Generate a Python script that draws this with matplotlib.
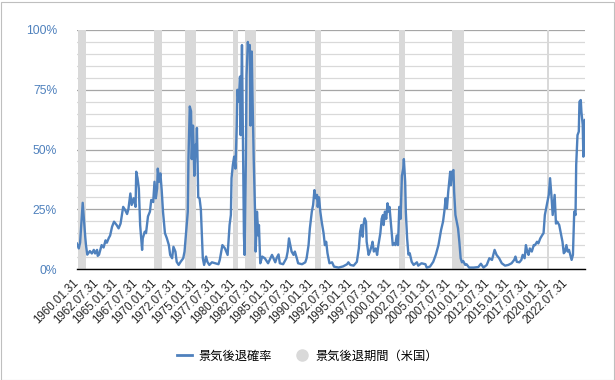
import calendar
import numpy as np
import matplotlib
matplotlib.use('Agg')
import matplotlib.pyplot as plt
from matplotlib.lines import Line2D
from matplotlib.patches import Rectangle

# category axis: one category per month
first_year = 1960
n_months = 779          # 1960.01 .. 2024.11
label_step = 30

# US recessions (NBER), start / end month
rec_start = ["1960-04", "1969-12", "1973-11", "1980-01", "1981-07",
             "1990-07", "2001-03", "2007-12", "2020-02"]
rec_end = ["1961-02", "1970-11", "1975-03", "1980-07", "1982-11",
           "1991-03", "2001-11", "2009-06", "2020-04"]

# recession probability (%)
prob_months = [
    "1960-01", "1960-04", "1960-06", "1960-10", "1961-02", "1961-03", "1961-05", "1961-09", "1961-12",
    "1962-03", "1962-05", "1962-08", "1962-09", "1962-11", "1963-03", "1963-06", "1963-09", "1963-11",
    "1964-02", "1964-04", "1964-07", "1964-10", "1965-02", "1965-05", "1965-08", "1965-12", "1966-03",
    "1966-06", "1966-08", "1966-11", "1967-01", "1967-04", "1967-07", "1967-08", "1967-10", "1967-12",
    "1968-02", "1968-05", "1968-06", "1968-09", "1968-11", "1969-02", "1969-05", "1969-07", "1969-10",
    "1969-12", "1970-02", "1970-04", "1970-05", "1970-07", "1970-09", "1970-11", "1971-01", "1971-04",
    "1971-07", "1971-10", "1971-12", "1972-03", "1972-05", "1972-08", "1972-10", "1973-01", "1973-04",
    "1973-08", "1973-10", "1973-12", "1974-03", "1974-04", "1974-06", "1974-08", "1974-09", "1974-11",
    "1975-01", "1975-03", "1975-04", "1975-05", "1975-07", "1975-09", "1975-11", "1975-12", "1976-02",
    "1976-04", "1976-07", "1976-09", "1976-12", "1977-04", "1977-09", "1978-02", "1978-04", "1978-08",
    "1978-12", "1979-04", "1979-07", "1979-09", "1979-10", "1979-12", "1980-02", "1980-04", "1980-06",
    "1980-07", "1980-09", "1980-11", "1980-12", "1981-02", "1981-03", "1981-05", "1981-06", "1981-08",
    "1981-09", "1981-11", "1981-12", "1982-02", "1982-03", "1982-05", "1982-06", "1982-08", "1982-10",
    "1982-11", "1983-01", "1983-03", "1983-04", "1983-06", "1983-09", "1984-01", "1984-06", "1984-12",
    "1985-05", "1985-07", "1985-10", "1985-12", "1986-05", "1986-10", "1986-12", "1987-02", "1987-04",
    "1987-06", "1987-09", "1987-11", "1988-02", "1988-04", "1988-10", "1989-03", "1989-05", "1989-08",
    "1989-10", "1990-01", "1990-03", "1990-05", "1990-07", "1990-09", "1990-10", "1990-12", "1991-02",
    "1991-04", "1991-07", "1991-09", "1991-11", "1992-01", "1992-04", "1992-08", "1992-11", "1993-06",
    "1994-01", "1994-07", "1994-09", "1994-12", "1995-05", "1995-10", "1996-01", "1996-03", "1996-05",
    "1996-07", "1996-08", "1996-10", "1996-12", "1997-01", "1997-04", "1997-06", "1997-09", "1997-10",
    "1997-12", "1998-03", "1998-05", "1998-07", "1998-10", "1998-12", "1999-02", "1999-03", "1999-05",
    "1999-07", "1999-09", "1999-10", "1999-12", "2000-02", "2000-04", "2000-05", "2000-07", "2000-09",
    "2000-11", "2001-01", "2001-03", "2001-05", "2001-07", "2001-09", "2001-10", "2001-12", "2002-01",
    "2002-03", "2002-05", "2002-07", "2002-10", "2003-01", "2003-06", "2003-08", "2004-01", "2004-07",
    "2004-09", "2005-02", "2005-07", "2005-11", "2006-03", "2006-07", "2006-10", "2006-12", "2007-02",
    "2007-04", "2007-06", "2007-09", "2007-10", "2007-12", "2008-02", "2008-03", "2008-05", "2008-07",
    "2008-09", "2008-11", "2009-01", "2009-03", "2009-05", "2009-08", "2009-10", "2010-02", "2010-09",
    "2011-04", "2011-08", "2011-12", "2012-05", "2012-09", "2013-01", "2013-03", "2013-05", "2013-08",
    "2013-12", "2014-04", "2014-09", "2015-02", "2015-07", "2015-11", "2016-01", "2016-03", "2016-07",
    "2016-10", "2016-12", "2017-03", "2017-05", "2017-07", "2017-09", "2017-11", "2018-02", "2018-05",
    "2018-07", "2018-10", "2018-12", "2019-03", "2019-06", "2019-08", "2019-10", "2020-01", "2020-04",
    "2020-06", "2020-08", "2020-10", "2021-01", "2021-03", "2021-05", "2021-08", "2021-10", "2022-01",
    "2022-03", "2022-05", "2022-07", "2022-09", "2022-11", "2023-01", "2023-03", "2023-05", "2023-07",
    "2023-09", "2023-10", "2023-12", "2024-02", "2024-03", "2024-05", "2024-06", "2024-08", "2024-09",
    "2024-10", "2024-11",
]
prob_values = [
    10.7, 8.6, 11, 27.7, 13, 10, 6, 7.5, 6.5,
    8, 6.5, 8, 5.5, 6, 10, 9, 12, 11,
    13, 14, 17.7, 19.8, 18.4, 17, 19, 26, 24.7,
    23, 25, 31.6, 26.8, 29.6, 26, 40.7, 38, 33.7,
    18.4, 8, 12.8, 15.6, 15, 22, 24, 28.9, 28,
    36.5, 29.6, 33.7, 42, 36.5, 40, 33, 24, 15,
    12.8, 10, 5.9, 4.5, 9.3, 7.3, 3, 1.7, 3,
    4.5, 7.3, 14.2, 24, 46, 68, 66, 46, 60,
    39, 52, 49, 59, 30, 29.6, 25, 18.4, 4.5,
    1.7, 5.2, 3, 1.7, 2.8, 2.4, 2, 3.8, 10,
    8.6, 5.9, 18.4, 22.6, 38, 43.5, 47, 42, 60,
    75, 70, 80.5, 56, 93.7, 67, 14, 5.9, 46,
    81, 95, 91.6, 93.7, 60, 91, 74, 46, 24,
    7.3, 24, 14, 18.4, 2.4, 5.2, 4.5, 2.4, 5.9,
    2.8, 4.5, 6.1, 2.4, 2, 4.5, 7.3, 12.8, 10,
    7.3, 5.9, 7.3, 4.5, 2.4, 2, 2.8, 4.5, 10,
    17, 24, 26.8, 33, 29.6, 31, 26, 30, 24,
    20, 15, 10, 11.4, 6.6, 2.4, 2.8, 1, 0.6,
    1.1, 2, 2.8, 1.7, 1.4, 3, 8.6, 15.6, 18.4,
    13.5, 18.4, 21.2, 19.8, 11.4, 5.9, 7.3, 10, 11.4,
    7.3, 8.6, 5.9, 10, 15, 21, 22.6, 18.4, 24,
    21, 27.5, 24, 26, 19.8, 14, 10, 10.7, 10,
    14, 10, 26, 21, 39, 42, 46, 36.5, 24,
    12.8, 6, 6.6, 3, 1.7, 2.8, 1.4, 2.4, 2,
    0.6, 1, 3, 6, 10, 16.3, 19.8, 24, 29.6,
    25.4, 32.4, 40.7, 35, 40.7, 41.4, 32.4, 22.6, 19.8,
    17, 11.4, 4.5, 2.8, 3.3, 1.7, 2, 0.6, 0.6,
    0.8, 2.2, 0.6, 1.7, 4.5, 3.8, 5.9, 8, 5.9,
    4.5, 2.4, 1.4, 1.7, 2.4, 3.8, 5.2, 3, 2.8,
    3.8, 5.9, 4.5, 10, 7.3, 5.9, 8.6, 7.3, 10,
    10, 11.4, 10.7, 12.8, 14.2, 15, 22.6, 26.8, 31,
    38, 31, 22.6, 31, 19, 19.8, 18.4, 15.6, 11.4,
    6.6, 7.3, 10, 7.3, 8, 5.9, 3.8, 5.9, 24,
    22.6, 43.5, 56, 57.5, 70, 70.7, 65.8, 60.3, 47,
    61.6, 62.3,
]


def month_index(s):
    y, m = s.split('-')
    return (int(y) - first_year) * 12 + int(m) - 1


def month_label(i):
    y = first_year + i // 12
    m = i % 12 + 1
    return f"{y}.{m:02d}.{calendar.monthrange(y, m)[1]}"


months = np.arange(n_months)
in_recession = np.zeros(n_months)
for s, e in zip(rec_start, rec_end):
    in_recession[month_index(s):month_index(e) + 1] = 100

prob_x = [month_index(s) for s in prob_months]

plt.rcParams['font.family'] = ['Liberation Sans', 'Noto Sans CJK JP', 'DejaVu Sans']

fig = plt.figure(figsize=(6.15, 3.8), dpi=100)
ax = fig.add_axes([76.5 / 615, 111 / 380, 508.5 / 615, 239 / 380])

ax.bar(months, in_recession, width=1.0, color='#D9D9D9', linewidth=0, zorder=2)
ax.plot(prob_x, prob_values, color='#4F81BD', lw=1.7, zorder=3, solid_joinstyle='round')

ax.set_xlim(-0.5, n_months - 0.5)
ax.set_ylim(0, 100)

ax.set_yticks([0, 25, 50, 75, 100])
ax.set_yticklabels([f"{v}%" for v in [0, 25, 50, 75, 100]], color='#4F81BD', fontsize=8.7)
ax.set_yticks(np.arange(0, 101, 5), minor=True)
ax.grid(which='minor', axis='y', color='#D9D9D9', lw=0.9, zorder=0)
ax.grid(which='major', axis='y', color='#A6A6A6', lw=0.9, zorder=0)
ax.set_axisbelow(True)

ticks = np.arange(0, n_months, label_step)
ax.set_xticks(ticks)
ax.set_xticklabels([month_label(i) for i in ticks], rotation=45, ha='right', va='center',
                   rotation_mode='anchor', fontsize=8.3, color='#262626')
ax.tick_params(axis='both', which='both', length=0)
ax.tick_params(axis='y', pad=14)
ax.tick_params(axis='x', pad=9)

for side in ['left', 'right', 'top']:
    ax.spines[side].set_visible(False)
ax.spines['bottom'].set_color('#000000')
ax.spines['bottom'].set_linewidth(1.0)
ax.spines['bottom'].set_zorder(4)

handles = [
    Line2D([], [], color='#4F81BD', lw=2),
    Line2D([], [], marker='o', ls='none', markersize=8, markerfacecolor='#D9D9D9',
           markeredgecolor='#D9D9D9'),
]
fig.legend(handles, ['景気後退確率', '景気後退期間（米国）'], loc='center',
           bbox_to_anchor=(0.5, 24 / 380), ncol=2, frameon=False,
           handlelength=1.25, handletextpad=0.5, columnspacing=1.8,
           prop={'family': ['Noto Sans CJK JP', 'DejaVu Sans'], 'size': 8.8})

fig.add_artist(Rectangle((0.5 / 615, 0.5 / 380), 613 / 615, 378 / 380, transform=fig.transFigure,
                         fill=False, edgecolor='#BFBFBF', lw=0.8))

fig.savefig('out.png', dpi=100)
